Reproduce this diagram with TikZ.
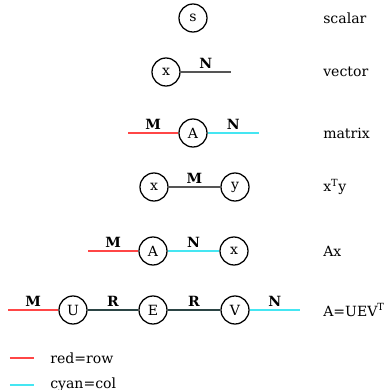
\documentclass[tikz,border=0pt]{standalone}
\usepackage{fontspec}
\setmainfont{DejaVu Serif}
\usepackage{tikz}
\usepackage{xcolor}
\definecolor{rowc}{HTML}{FF4646}
\definecolor{colc}{HTML}{45E6F2}
\definecolor{bondc}{HTML}{555555}
\definecolor{innerc}{HTML}{2B4444}
\tikzset{
  tensor/.style={draw, circle, line width=0.9pt, minimum size=0.7cm, inner sep=0pt, font=\normalsize},
  row/.style={draw=rowc, line width=1.2pt},
  col/.style={draw=colc, line width=1.2pt},
  bond/.style={draw=bondc, line width=1.2pt},
  inner/.style={draw=innerc, line width=1.2pt},
  dim/.style={above, inner sep=2pt, font=\normalsize\bfseries},
  caption/.style={anchor=west, inner sep=0pt, font=\normalsize},
}

\begin{document}
\begin{tikzpicture}[x=0.025cm, y=-0.025cm]
\useasboundingbox (0,0) rectangle (386,390);
% scalar
\node[tensor] (s) at (193,18) {s};
\node[caption] (cs) at (323,18) {scalar};
% vector
\node[tensor] (xv) at (166,72) {x};
\coordinate (xvN) at (231,72);
\draw[bond] (xv) -- node[dim] {N} (xvN);
\node[caption] (cv) at (323,72) {vector};
% matrix
\coordinate (AmM) at (128,133);
\node[tensor] (Am) at (193,133) {A};
\coordinate (AmN) at (259,133);
\draw[row] (AmM) -- node[dim] {M} (Am);
\draw[col] (Am) -- node[dim] {N} (AmN);
\node[caption] (cm) at (323,133) {matrix};
% inner product
\node[tensor] (xi) at (154,187) {x};
\node[tensor] (yi) at (235,187) {y};
\draw[bond] (xi) -- node[dim] {M} (yi);
\node[caption] (ci) at (323,187) {x\textsuperscript{T}y};
% matrix times vector
\coordinate (AxM) at (88,251);
\node[tensor] (Ax) at (153,251) {A};
\node[tensor] (xx) at (234,251) {x};
\draw[row] (AxM) -- node[dim] {M} (Ax);
\draw[col] (Ax) -- node[dim] {N} (xx);
\node[caption] (cx) at (323,251) {Ax};
% decomposition
\coordinate (UM) at (8,310);
\node[tensor] (U) at (73,310) {U};
\node[tensor] (E) at (153,310) {E};
\node[tensor] (V) at (235,310) {V};
\coordinate (VN) at (300,310);
\draw[row] (UM) -- node[dim] {M} (U);
\draw[inner] (U) -- node[dim] {R} (E);
\draw[inner] (E) -- node[dim] {R} (V);
\draw[col] (V) -- node[dim] {N} (VN);
\node[caption] (cd) at (323,310) {A=UEV\textsuperscript{T}};
% legend
\coordinate (lr1) at (10,358);
\coordinate (lr2) at (34,358);
\draw[row] (lr1) -- (lr2);
\node[caption] (lrt) at (50,358) {red=row};
\coordinate (lc1) at (10,385);
\coordinate (lc2) at (34,385);
\draw[col] (lc1) -- (lc2);
\node[caption] (lct) at (50,385) {cyan=col};
\end{tikzpicture}
\end{document}
